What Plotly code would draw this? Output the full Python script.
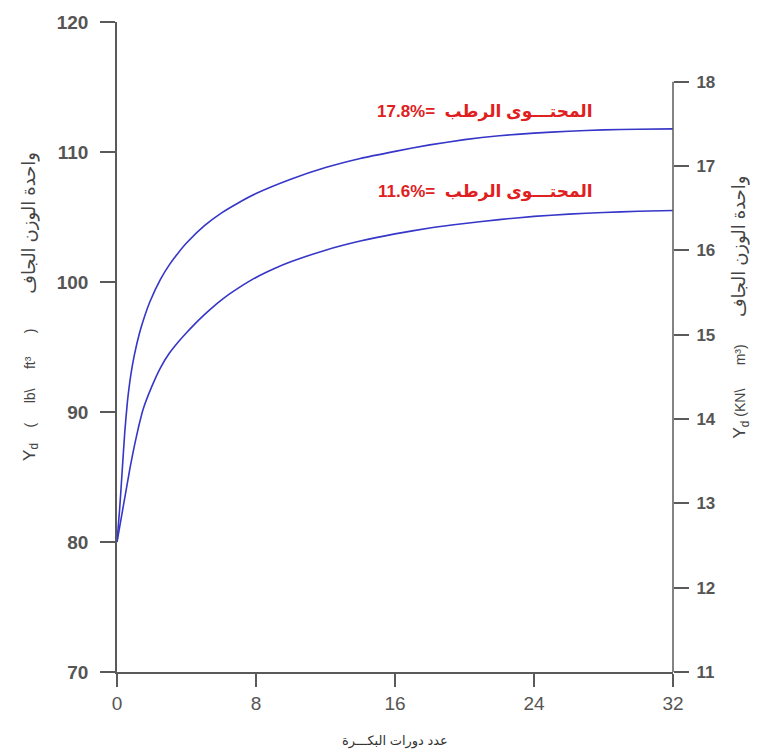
import plotly.graph_objects as go

# Data
x_upper = [0, 0.15, 0.3, 0.45, 0.6, 0.8, 1.0, 1.3, 1.6, 1.9, 2.5, 3, 3.5, 4, 5, 6, 7, 8, 10, 12, 14, 16, 18, 20, 22, 24, 26, 28, 30, 32]
y_upper = [80, 82.5, 85.5, 88.5, 90.8, 92.9, 94.4, 96.1, 97.4, 98.5, 100.2, 101.3, 102.2, 103.0, 104.3, 105.3, 106.1, 106.8, 107.9, 108.8, 109.5, 110.05, 110.55, 110.95, 111.25, 111.45, 111.6, 111.7, 111.75, 111.78]
x_lower = [0, 0.25, 0.5, 0.75, 1.0, 1.25, 1.5, 2.0, 2.5, 3.0, 3.5, 4, 4.5, 5, 5.5, 6, 6.5, 7, 8, 9, 10, 12, 14, 16, 18, 20, 22, 24, 26, 28, 30, 32]
y_lower = [80, 81.9, 83.8, 85.7, 87.4, 88.9, 90.2, 91.95, 93.4, 94.5, 95.35, 96.1, 96.8, 97.45, 98.05, 98.6, 99.1, 99.55, 100.35, 101.0, 101.55, 102.45, 103.15, 103.7, 104.15, 104.5, 104.8, 105.05, 105.22, 105.35, 105.44, 105.5]

x_ticks = [0, 8, 16, 24, 32]
y_ticks = [70, 80, 90, 100, 110, 120]
y2_ticks = [11, 12, 13, 14, 15, 16, 17, 18]

NB = "\u00a0"
label_upper = "17.8%=" + NB * 2 + "المحتـــوى الرطب"
label_lower = "11.6%=" + NB * 2 + "المحتـــوى الرطب"
left_title = ('<span style="font-size:17px">Y<sub>d</sub></span>' + NB * 4 + "(" + NB * 5 + "lb\\" + NB * 5
              + "ft³" + NB * 6 + ")" + NB * 9 + '<span style="font-size:18px">واحدة الوزن الجاف</span>')
right_title = ('<span style="font-size:17px">Y<sub>d</sub></span>' + NB + "(KN\\" + NB * 6 + "m³)" + NB * 7
               + '<span style="font-size:18px">واحدة الوزن الجاف</span>')
x_title = "عدد دورات البكـــرة"

line_color = "#3636c8"
axis_color = "#5a5a5a"
tick_font_color = "#555555"

fig = go.Figure()
fig.add_trace(go.Scatter(x=x_upper, y=y_upper, mode="lines",
                         line=dict(color=line_color, width=1.6, shape="spline", smoothing=0.5),
                         showlegend=False))
fig.add_trace(go.Scatter(x=x_lower, y=y_lower, mode="lines",
                         line=dict(color=line_color, width=1.6, shape="spline", smoothing=0.5),
                         showlegend=False))
# invisible trace to activate the right axis
fig.add_trace(go.Scatter(x=[0], y=[11], yaxis="y2", mode="markers",
                         marker=dict(opacity=0), showlegend=False, hoverinfo="skip"))

fig.update_layout(
    width=773, height=755,
    margin=dict(l=117, r=100, t=19, b=83),
    plot_bgcolor="white", paper_bgcolor="white",
    font=dict(family="Liberation Sans, Arial, DejaVu Sans, sans-serif"),
    xaxis=dict(range=[0, 32], tickvals=x_ticks, showgrid=False, zeroline=False,
               showline=True, linecolor=axis_color, linewidth=1.5,
               ticks="outside", ticklen=13, tickwidth=1.5, tickcolor=axis_color,
               ticklabelstandoff=0,
               tickfont=dict(size=19, color=tick_font_color,
                             family="Liberation Sans Narrow, Arial Narrow, Liberation Sans, sans-serif")),
    yaxis=dict(range=[70, 120], tickvals=y_ticks, showgrid=False, zeroline=False,
               showline=True, linecolor=axis_color, linewidth=1.5,
               ticks="outside", ticklen=15, tickwidth=1.5, tickcolor=axis_color,
               ticklabelstandoff=8,
               tickfont=dict(size=19, color=tick_font_color, weight="bold")),
    yaxis2=dict(range=[11, 18.708], tickvals=y2_ticks, overlaying="y", side="right",
                showgrid=False, zeroline=False, showline=False,
                ticks="outside", ticklen=15, tickwidth=1.5, tickcolor=axis_color,
                ticklabelstandoff=4,
                tickfont=dict(size=17, color=tick_font_color, weight="bold")),
)

# right axis line only from 11 to 18
fig.add_shape(type="line", xref="paper", yref="y2", x0=1, x1=1, y0=11, y1=18,
              line=dict(color=axis_color, width=1.5))

fig.add_annotation(x=21.2, y=113.1, xref="x", yref="y", text=label_upper, showarrow=False,
                   xanchor="center", yanchor="middle",
                   font=dict(size=17, color="#e02020", weight="bold"))
fig.add_annotation(x=21.2, y=106.9, xref="x", yref="y", text=label_lower, showarrow=False,
                   xanchor="center", yanchor="middle",
                   font=dict(size=17, color="#e02020", weight="bold"))

fig.add_annotation(x=-0.156, y=0.562, xref="paper", yref="paper", text=left_title,
                   textangle=-90, showarrow=False, xanchor="center", yanchor="middle",
                   font=dict(size=14, color="#444444"))
fig.add_annotation(x=1.122, y=0.562, xref="paper", yref="paper", text=right_title,
                   textangle=-90, showarrow=False, xanchor="center", yanchor="middle",
                   font=dict(size=14, color="#444444"))
fig.add_annotation(x=0.5, y=-0.106, xref="paper", yref="paper", text=x_title,
                   showarrow=False, xanchor="center", yanchor="middle",
                   font=dict(size=13, color="#333333"))

fig.write_html("out.html")
